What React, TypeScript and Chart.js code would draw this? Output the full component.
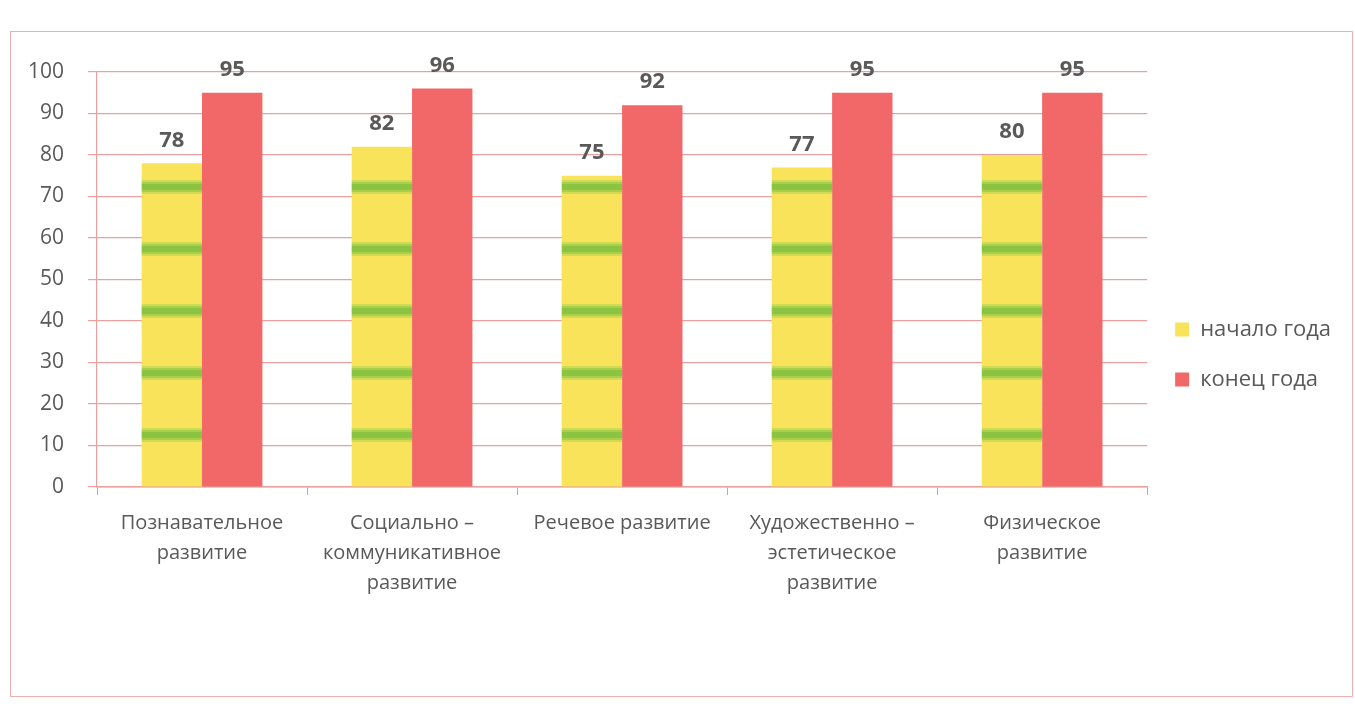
import React, { useEffect, useRef } from "react";
import { Chart, registerables } from "chart.js";

Chart.register(...registerables);

const categories: string[][] = [
  ["Познавательное", "развитие"],
  ["Социально –", "коммуникативное", "развитие"],
  ["Речевое развитие"],
  ["Художественно –", "эстетическое", "развитие"],
  ["Физическое", "развитие"],
];
const seriesNames = ["начало года", "конец года"];
const startValues = [78, 82, 75, 77, 80];
const endValues = [95, 96, 92, 95, 95];
const yMin = 0;
const yMax = 100;
const yStep = 10;

const FONT = "'Open Sans', 'DejaVu Sans', sans-serif";
const TEXT = "#595959";
const GRID = "#eba0a0";
const YELLOW = "#f8e35a";
const RED = "#f26868";

function makeStripePattern(ctx: CanvasRenderingContext2D) {
  const c = document.createElement("canvas");
  c.width = 8;
  c.height = 62;
  const g = c.getContext("2d")!;
  g.fillStyle = YELLOW;
  g.fillRect(0, 0, 8, 62);
  const rows: [number, number, string][] = [
    [24, 2, "#cfdb55"],
    [26, 2, "#a9d04a"],
    [28, 6, "#8cc441"],
    [34, 2, "#a9d04a"],
    [36, 2, "#cfdb55"],
  ];
  rows.forEach(([y, h, col]) => {
    g.fillStyle = col;
    g.fillRect(0, y, 8, h);
  });
  return ctx.createPattern(c, "repeat")!;
}

export default function App() {
  const ref = useRef<HTMLCanvasElement | null>(null);

  useEffect(() => {
    const canvas = ref.current!;
    const ctx = canvas.getContext("2d")!;
    const pattern = makeStripePattern(ctx);

    const patternAlign = {
      id: "patternAlign",
      beforeDatasetsDraw(chart: any) {
        const y0 = Math.round(chart.scales.y.getPixelForValue(0));
        pattern.setTransform(new DOMMatrix().translate(0, y0 - 52 - 31));
      },
    };

    const valueLabels = {
      id: "valueLabels",
      afterDatasetsDraw(chart: any) {
        const c = chart.ctx;
        c.save();
        c.font = `bold 22px ${FONT}`;
        c.fillStyle = TEXT;
        c.textAlign = "center";
        c.textBaseline = "bottom";
        chart.data.datasets.forEach((ds: any, i: number) => {
          const meta = chart.getDatasetMeta(i);
          meta.data.forEach((el: any, j: number) => {
            c.fillText(String(ds.data[j]), el.x, el.y - 12);
          });
        });
        c.restore();
      },
    };

    const chart = new Chart(canvas, {
      type: "bar",
      data: {
        labels: categories,
        datasets: [
          {
            label: seriesNames[0],
            data: startValues,
            backgroundColor: pattern as any,
            borderWidth: 0,
          },
          {
            label: seriesNames[1],
            data: endValues,
            backgroundColor: RED,
            borderWidth: 0,
          },
        ],
      },
      options: {
        responsive: false,
        animation: false,
        datasets: {
          bar: { categoryPercentage: 0.575, barPercentage: 1 },
        },
        layout: { padding: { left: 10, top: 72, right: 14, bottom: 67 } },
        plugins: {
          tooltip: { enabled: false },
          legend: {
            position: "right",
            labels: {
              boxWidth: 14,
              boxHeight: 14,
              padding: 28,
              color: TEXT,
              font: { family: FONT, size: 22 },
              generateLabels: () =>
                seriesNames.map((n, i) => ({
                  text: n,
                  fillStyle: i === 0 ? YELLOW : RED,
                  strokeStyle: i === 0 ? YELLOW : RED,
                  fontColor: TEXT,
                  lineWidth: 0,
                  hidden: false,
                  datasetIndex: i,
                })),
            },
          },
        },
        scales: {
          x: {
            afterFit: (s: any) => {
              s.height = 150;
            },
            grid: {
              offset: true,
              drawOnChartArea: false,
              drawTicks: true,
              tickLength: 8,
              color: "#d4a0a0",
            },
            border: { color: GRID, width: 1.5 },
            ticks: {
              color: TEXT,
              padding: 13,
              maxRotation: 0,
              autoSkip: false,
              font: { family: FONT, size: 20, lineHeight: 1.5 },
            },
          },
          y: {
            min: yMin,
            max: yMax,
            afterFit: (s: any) => {
              s.width = 87;
            },
            grid: {
              color: GRID,
              lineWidth: 1.2,
              drawTicks: true,
              tickLength: 9,
            },
            border: { color: GRID, width: 1.2 },
            ticks: {
              stepSize: yStep,
              color: TEXT,
              padding: 24,
              font: { family: FONT, size: 21 },
            },
          },
        },
      },
      plugins: [patternAlign, valueLabels],
    });
    return () => chart.destroy();
  }, []);

  return (
    <div
      style={{
        position: "absolute",
        left: 0,
        top: 0,
        width: 1355,
        height: 704,
        background: "#ffffff",
        overflow: "hidden",
      }}
    >
      <div
        style={{
          position: "absolute",
          left: 10,
          top: 31,
          width: 1343,
          height: 666,
          border: "1.5px solid #efb0b0",
          boxSizing: "border-box",
        }}
      />
      <canvas
        ref={ref}
        width={1355}
        height={704}
        style={{ position: "absolute", left: 0, top: 0 }}
      />
    </div>
  );
}
